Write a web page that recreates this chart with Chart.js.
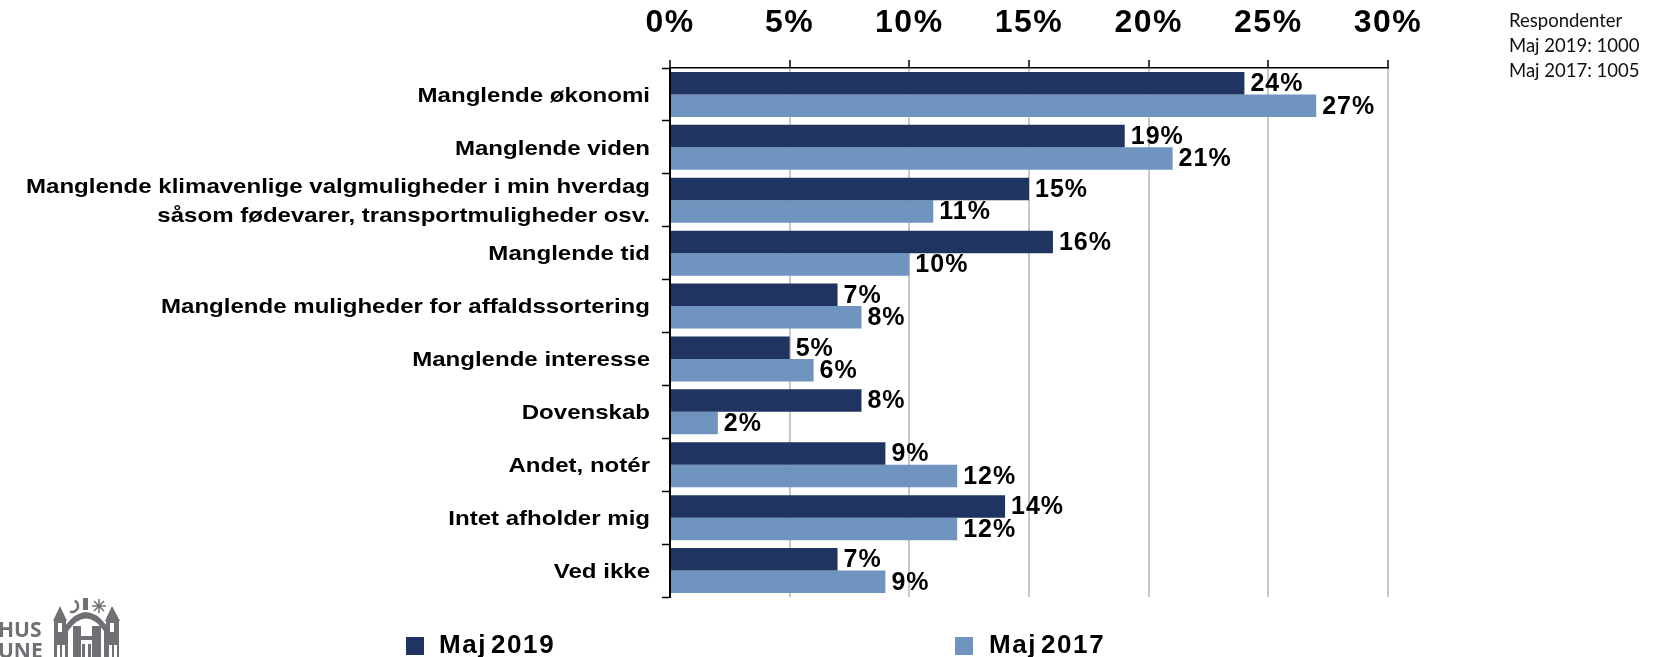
<!DOCTYPE html>
<html><head><meta charset="utf-8">
<style>html,body{margin:0;padding:0;background:#fff;overflow:hidden}#w{position:relative;width:1654px;height:657px}canvas{display:block}</style>
<script src="https://cdn.jsdelivr.net/npm/chart.js@4"></script></head>
<body><div id="w"><canvas id="c" width="1654" height="657"></canvas></div>
<script>
const categories=["Manglende økonomi","Manglende viden",["Manglende klimavenlige valgmuligheder i min hverdag","såsom fødevarer, transportmuligheder osv."],"Manglende tid","Manglende muligheder for affaldssortering","Manglende interesse","Dovenskab","Andet, notér","Intet afholder mig","Ved ikke"];
const maj2019=[24,19,15,16,7,5,8,9,14,7];
const maj2017=[27,21,11,10,8,6,2,12,12,9];
const seriesNames=["Maj 2019","Maj 2017"];
const seriesColors=["#1F3461","#6E94BF"];
const respondenter=["Respondenter","Maj 2019: 1000","Maj 2017: 1005"];
const logoText=["HUS","UNE"];
const FONT='"Liberation Sans", Arial, sans-serif';
const A={l:670,r:1388,t:68,b:597};

function wrapLabels(s,before){
  const orig=s.drawLabels;
  if(orig.__w)return;
  const f=function(a){const c=this.ctx;c.save();before(c,this);orig.call(this,a);c.restore();};
  f.__w=true;s.drawLabels=f;
}

const overlay={id:'overlay',
 afterDatasetsDraw(ch){
  const x=ch.ctx;x.save();
  x.fillStyle='#000';x.font='bold 25px '+FONT;x.textBaseline='middle';x.textAlign='left';x.letterSpacing='1px';
  ch.data.datasets.forEach((d,i)=>{ch.getDatasetMeta(i).data.forEach((b,j)=>{
    x.fillText(d.data[j]+'%',b.x+6,b.y+1);});});
  x.restore();
 },
 afterDraw(ch){
  const x=ch.ctx;x.save();
  x.textBaseline='middle';x.textAlign='left';
  const lx=[406,955],tx=[439,989];
  ch.data.datasets.forEach((d,i)=>{
    x.fillStyle=d.backgroundColor;x.fillRect(lx[i],637,18,18);
    x.fillStyle='#000';x.font='bold 26px '+FONT;x.letterSpacing='1.6px';x.wordSpacing='-5px';x.fillText(d.label,tx[i],646);
  });
  x.letterSpacing='0px';x.wordSpacing='0px';
  x.fillStyle='#111';x.font='18.5px Lato, sans-serif';
  respondenter.forEach((t,i)=>x.fillText(t,1509,21+i*25));
  // logo
  const g='#6f7074';x.fillStyle=g;x.font='bold 21px "Open Sans", sans-serif';
  x.fillText(logoText[0],-2,631);x.fillText(logoText[1],-2,652);
  x.beginPath();
  x.rect(54,620,12,37);x.rect(106,620,13,37);
  x.moveTo(53,621);x.lineTo(60,606);x.lineTo(67,621);
  x.moveTo(105,621);x.lineTo(112,606);x.lineTo(120,621);
  x.fill();
  x.beginPath();x.moveTo(65,657);x.lineTo(65,626);x.quadraticCurveTo(86,598,107,626);x.lineTo(107,657);x.lineTo(104,657);x.lineTo(104,631);x.quadraticCurveTo(86,606,68,631);x.lineTo(68,657);x.fill();
  x.fillRect(83,598,5,12);
  x.fillStyle='#fff';x.fillRect(58,623,4,9);x.fillRect(110,623,4,9);
  x.fillRect(57,645,3,12);x.fillRect(62,645,3,12);x.fillRect(109,645,3,12);x.fillRect(114,645,3,12);
  x.fillStyle=g;x.fillRect(73,626,8,31);x.fillRect(92,626,9,31);x.fillRect(81,636,11,4);x.fillRect(82,644,3,13);x.fillRect(88,644,3,13);
  x.strokeStyle=g;x.lineWidth=2.5;x.beginPath();x.arc(72,606,6,-1.1,1.9,false);x.stroke();
  x.lineWidth=1.5;x.beginPath();
  [[99,599,99,613],[92,606,106,606],[94,601,104,611],[104,601,94,611]].forEach(p=>{x.moveTo(p[0],p[1]);x.lineTo(p[2],p[3]);});
  x.stroke();
  x.restore();
 }};

new Chart(document.getElementById('c'),{type:'bar',
 data:{labels:categories,datasets:[
  {label:seriesNames[0],data:maj2019,backgroundColor:seriesColors[0]},
  {label:seriesNames[1],data:maj2017,backgroundColor:seriesColors[1]}]},
 plugins:[overlay],
 options:{indexAxis:'y',responsive:false,animation:false,
  layout:{padding:{top:0,left:0,right:1654-A.r,bottom:657-A.b}},
  datasets:{bar:{categoryPercentage:0.85,barPercentage:1,borderWidth:0}},
  plugins:{legend:{display:false},tooltip:{enabled:false},title:{display:false}},
  scales:{
   x:{position:'top',min:0,max:30,
    ticks:{stepSize:5,callback:v=>v+'%',color:'#000',font:{family:FONT,weight:'bold',size:32},padding:18,maxRotation:0},
    grid:{color:'#C8C8C8',lineWidth:2,tickColor:'#000',tickWidth:1.5,tickLength:8},
    border:{color:'#000',width:1.5},
    afterFit(s){s.height=A.t;},
    afterUpdate(s){wrapLabels(s,c=>{c.letterSpacing='1.5px';});}},
   y:{
    ticks:{color:'#000',font:{family:FONT,weight:'bold',size:21,lineHeight:1.35},padding:14,autoSkip:false},
    grid:{drawOnChartArea:false,tickColor:'#000',tickWidth:1.5,tickLength:8,offset:true},
    border:{color:'#000',width:2},
    afterFit(s){s.width=A.l;},
    afterUpdate(s){wrapLabels(s,(c)=>{const e=648;c.translate(e+2,1.5);c.scale(1.145,1);c.translate(-e,0);});}}
  }
 }
});
</script></body></html>
